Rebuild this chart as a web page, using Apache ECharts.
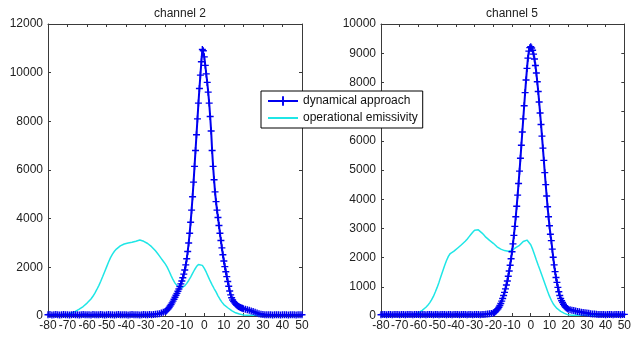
<!DOCTYPE html>
<html>
<head>
<meta charset="utf-8">
<script src="https://cdn.jsdelivr.net/npm/echarts@6/dist/echarts.min.js"></script>
<style>
  html, body { margin: 0; padding: 0; background: #fff; }
  #chart { width: 634px; height: 337px; }
</style>
</head>
<body>
<div id="chart"></div>
<script>
// x grids: the dynamical curve is sampled finer near the peak
function range(a, b, step) {
  var out = [];
  for (var v = a; v <= b + 1e-9; v += step) out.push(Math.round(v * 10) / 10);
  return out;
}
var xDyn = range(-80, -21, 1).concat(range(-20, 20, 0.5)).concat(range(21, 50, 1));
var xOper = range(-80, 50, 1);

var titles = ['channel 2', 'channel 5'];
var seriesNames = ['dynamical approach', 'operational emissivity'];
var xTicks = { min: -80, max: 50, interval: 10 };
var yTicks = [{ max: 12000, interval: 2000 }, { max: 10000, interval: 1000 }];

// channel 2
var ch2Dyn = [
  50, 60, 45, 55, 60, 50, 45, 55, 60, 50, 55, 45, 50, 60, 55, 50, 45, 55, 60, 50,
  55, 50, 45, 60, 55, 50, 55, 60, 50, 45, 55, 60, 50, 55, 45, 50, 60, 55, 50, 55,
  50, 45, 55, 60, 50, 55, 50, 45, 55, 60, 50, 55, 60, 55, 60, 70, 80, 95, 120, 150,
  // -20 .. 20 step 0.5
  180, 210, 250, 300, 350, 410, 470, 540, 610, 690, 770, 850, 930, 1020, 1110, 1210,
  1320, 1440, 1570, 1720, 1890, 2100, 2350, 2650, 3000, 3400, 3850, 4350, 4900, 5500,
  6150, 6800, 7450, 8100, 8750, 9350, 9900, 10450, 10950, 10900,
  10650, 10300, 9950, 9600, 9200, 8750, 8200, 7600, 6800, 6150, 5600, 5100, 4700, 4350,
  4050, 3720, 3400, 3100, 2800, 2520, 2260, 2030, 1820, 1620, 1420, 1220, 1030, 870,
  750, 660, 590, 540, 490, 450, 420, 390, 370, 350, 330, 315, 300,
  // 21 .. 50
  280, 260, 235, 210, 180, 150, 120, 95, 75, 60, 55, 50, 55, 50, 45, 50, 55, 50, 45, 50,
  55, 50, 45, 50, 55, 50, 45, 50, 55, 50
];
var ch2Oper = [
  50, 50, 55, 50, 45, 50, 55, 50, 55,
  60, 75, 95, 120, 150, 190, 230, 280, 330, 390, 450,
  530, 610, 700, 810, 940, 1090, 1250, 1430, 1620, 1820,
  2020, 2220, 2400, 2540, 2660, 2750, 2820, 2880, 2920, 2960,
  2980, 3000, 2990, 3030, 3050, 3070, 3100, 3120, 3100, 3070,
  3030, 2980, 2920, 2850, 2770, 2680, 2580, 2470, 2360, 2250,
  2140, 2010, 1840, 1660, 1490, 1350, 1250, 1180, 1150, 1170,
  1240, 1340, 1460, 1600, 1750, 1900, 2030, 2120, 2150, 2080,
  1960, 1800, 1620, 1440, 1280, 1130, 990, 830, 690, 570,
  470, 400, 340, 280, 220, 170, 130, 100, 80, 60,
  45, 40, 35, 30, 30, 25, 30, 30, 25, 30, 30, 25, 30, 30, 25, 30,
  30, 25, 30, 30, 25, 30, 30, 25, 30, 30, 25, 30, 30, 25, 30
];

// channel 5
var ch5Dyn = [
  45, 55, 50, 45, 55, 50, 45, 50, 55, 50, 45, 50, 55, 45, 50, 55, 50, 45, 55, 50,
  50, 45, 55, 50, 45, 50, 55, 50, 45, 55, 50, 45, 50, 55, 50, 45, 55, 50, 45, 50,
  55, 50, 45, 50, 55, 50, 45, 55, 50, 45, 50, 55, 50, 45, 50, 55, 60, 70, 75, 85,
  // -20 .. 20 step 0.5
  100, 120, 145, 175, 210, 250, 300, 360, 430, 510, 600, 700, 810, 930, 1060, 1200,
  1360, 1540, 1740, 1960, 2200, 2470, 2760, 3070, 3400, 3760, 4140, 4540, 4960, 5400,
  5850, 6300, 6750, 7200, 7650, 8080, 8480, 8830, 9070, 9190,
  9220, 9180, 9100, 8970, 8800, 8580, 8320, 8020, 7690, 7330, 6950, 6560, 6160, 5750,
  5330, 4910, 4500, 4110, 3740, 3400, 3090, 2800, 2580, 2290, 2010, 1750, 1520, 1320,
  1150, 980, 830, 700, 600, 520, 460, 400, 350, 310, 280, 255, 235,
  // 21 .. 50
  215, 200, 185, 170, 155, 145, 130, 120, 110, 100, 90, 80, 70, 65, 60, 55, 50, 55, 50, 45,
  50, 55, 50, 45, 50, 55, 50, 45, 50, 55
];
var ch5Oper = [
  40, 45, 40, 35, 40, 45, 40, 35, 40, 45, 40, 40, 35, 40, 45, 40, 40,
  45, 60, 80, 110, 150, 195, 245, 300, 370, 450, 550,
  670, 820, 980, 1160, 1350, 1540, 1730, 1900, 2040, 2140,
  2180, 2220, 2270, 2330, 2390, 2440, 2500, 2560, 2630, 2710,
  2790, 2870, 2940, 2980, 2950, 2900, 2840, 2770, 2700, 2640,
  2590, 2540, 2490, 2430, 2370, 2320, 2290, 2260, 2240, 2230,
  2220, 2230, 2250, 2290, 2340, 2380, 2420, 2470, 2550, 2610,
  2600, 2540, 2440, 2290, 2110, 1920, 1740, 1570, 1390, 1210,
  1030, 850, 680, 540, 420, 330, 260, 200, 160, 120,
  90, 60, 40,
  30, 25, 25, 30, 25, 25, 30, 25, 25, 30, 25, 25, 30, 25, 25,
  30, 25, 25, 30, 25, 25, 30, 25, 25, 30, 25, 25, 30, 25, 25
];

function pairs(xs, ys) {
  return xs.map(function (x, i) { return [x, ys[i]]; });
}

var font = 'Liberation Sans, Arial, sans-serif';
var frame = '#3a3a3a';
var blue = '#0000f0';
var cyan = '#1fe6e6';
var plus = 'path://M4,0H6V4H10V6H6V10H4V6H0V4H4Z';

var grids = [
  { left: 48, top: 24, width: 254, height: 292 },
  { left: 381, top: 24, width: 252, height: 292 }
];

var xAxes = [], yAxes = [];
grids.forEach(function (g, gi) {
  ['bottom', 'top'].forEach(function (pos) {
    xAxes.push({
      type: 'value', gridIndex: gi, position: pos,
      min: xTicks.min, max: xTicks.max, interval: xTicks.interval,
      axisLine: { show: true, onZero: false, lineStyle: { color: frame, width: 1 } },
      axisTick: { show: true, inside: true, length: 3, lineStyle: { color: frame } },
      axisLabel: {
        show: pos === 'bottom', margin: 4, color: '#222', fontSize: 12, fontFamily: font,
        formatter: function (v) { return String(v); }
      },
      splitLine: { show: false }
    });
  });
  ['left', 'right'].forEach(function (pos) {
    yAxes.push({
      type: 'value', gridIndex: gi, position: pos,
      min: 0, max: yTicks[gi].max, interval: yTicks[gi].interval,
      axisLine: { show: true, onZero: false, lineStyle: { color: frame, width: 1 } },
      axisTick: { show: true, inside: true, length: 3, lineStyle: { color: frame } },
      axisLabel: {
        show: pos === 'left', margin: 5, color: '#222', fontSize: 12, fontFamily: font,
        formatter: function (v) { return String(v); }
      },
      splitLine: { show: false }
    });
  });
});

var channels = [
  { dyn: ch2Dyn, oper: ch2Oper },
  { dyn: ch5Dyn, oper: ch5Oper }
];
var series = [];
channels.forEach(function (c, gi) {
  series.push({
    name: seriesNames[1], type: 'line',
    xAxisIndex: gi * 2, yAxisIndex: gi * 2,
    data: pairs(xOper, c.oper),
    showSymbol: false, symbol: 'none',
    lineStyle: { color: cyan, width: 1.5 },
    itemStyle: { color: cyan }
  });
  series.push({
    name: seriesNames[0], type: 'line',
    xAxisIndex: gi * 2, yAxisIndex: gi * 2,
    data: pairs(xDyn, c.dyn),
    symbol: plus, symbolSize: 7, showAllSymbol: true,
    lineStyle: { color: blue, width: 2 },
    itemStyle: { color: blue }
  });
});

var chart = echarts.init(document.getElementById('chart'), null, { renderer: 'canvas' });
chart.setOption({
  animation: false,
  backgroundColor: '#fff',
  title: [
    { text: titles[0], left: 175, top: 3, textAlign: 'center',
      textStyle: { fontSize: 12, fontWeight: 'normal', color: '#222', fontFamily: font } },
    { text: titles[1], left: 507, top: 3, textAlign: 'center',
      textStyle: { fontSize: 12, fontWeight: 'normal', color: '#222', fontFamily: font } }
  ],
  legend: {
    data: [
      { name: seriesNames[0] },
      { name: seriesNames[1], itemStyle: { opacity: 0 } }
    ],
    orient: 'vertical',
    left: 261, top: 91,
    padding: [4, 5, 4, 6],
    itemWidth: 30, itemHeight: 12, itemGap: 5,
    backgroundColor: '#fff',
    borderColor: '#000', borderWidth: 1, borderRadius: 0,
    textStyle: { fontSize: 12, color: '#111', fontFamily: font },
    z: 10
  },
  grid: grids,
  xAxis: xAxes,
  yAxis: yAxes,
  series: series
});
</script>
</body>
</html>
